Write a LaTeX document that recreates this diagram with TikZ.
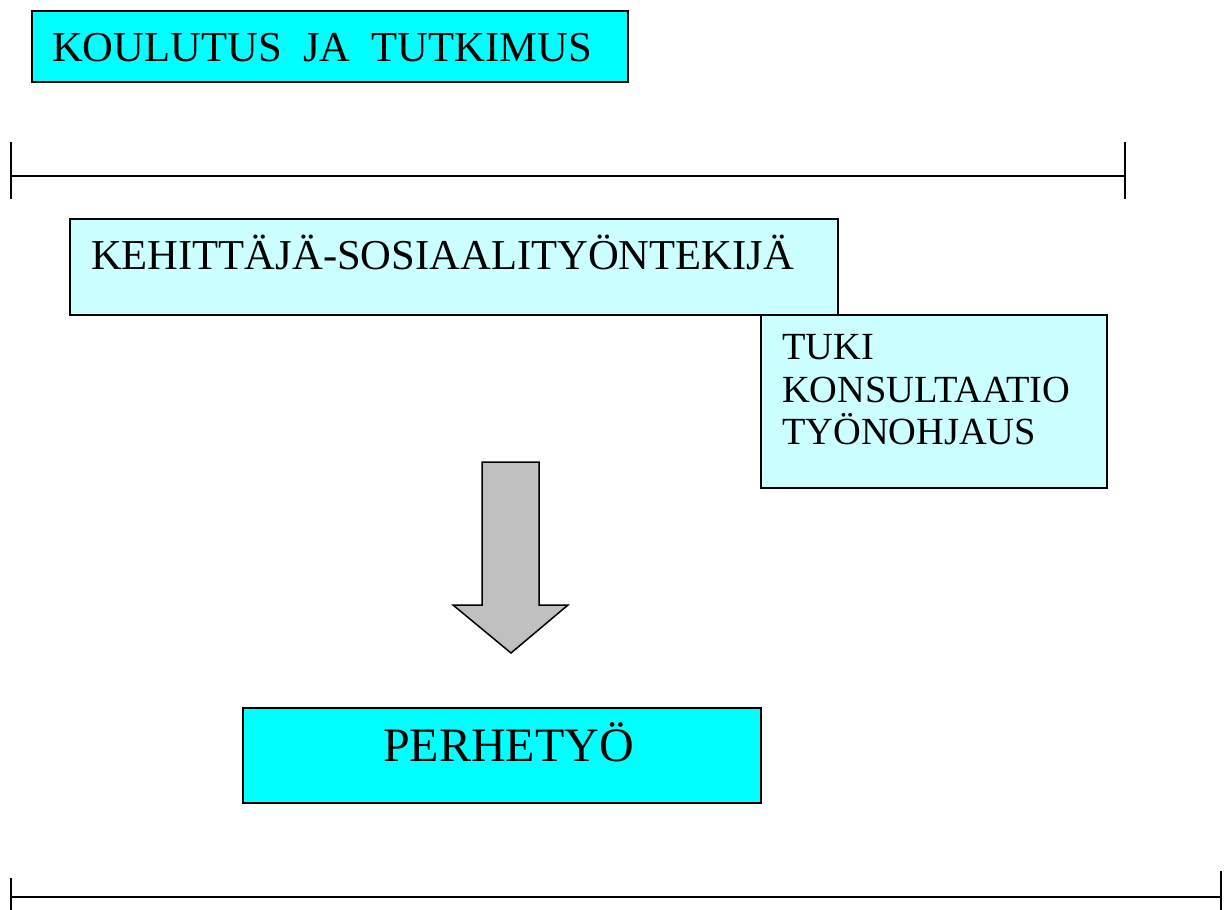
\documentclass[tikz,border=0pt]{standalone}
\usepackage{fontspec}
\setmainfont{Liberation Serif}
\definecolor{aqua}{HTML}{00FFFF}
\definecolor{paleaqua}{HTML}{CCFFFF}
\definecolor{arrowgray}{HTML}{C0C0C0}
\tikzset{
  boxa/.style={draw=black, line width=1.5pt, fill=aqua, anchor=north west, inner sep=0pt},
  boxb/.style={draw=black, line width=1.5pt, fill=paleaqua, anchor=north west, inner sep=0pt},
  txt/.style={anchor=base west, inner sep=0pt, text=black},
  rule/.style={draw=black, line width=1.5pt},
  bigarrow/.style={draw=black, line width=1.5pt, fill=arrowgray, line join=miter}
}
\begin{document}
\begin{tikzpicture}[x=1pt,y=-1pt]
\useasboundingbox (0,0) rectangle (1226,910);
% top box
\node[boxa, minimum width=596pt, minimum height=71pt] (koul) at (31,10) {};
\node[txt, font=\fontsize{42.6}{48}\selectfont] (koult) at (52,61) {KOULUTUS\ \ JA\ \ TUTKIMUS};
% top rule
\draw[rule] (11,176) -- (1125,176);
\draw[rule] (11,142) -- (11,199);
\draw[rule] (1125,142) -- (1125,199);
% kehittaja box
\node[boxb, minimum width=768pt, minimum height=96pt] (keh) at (69,218) {};
\node[txt, font=\fontsize{42.6}{48}\selectfont] (keht) at (91,269) {KEHITTÄJÄ-SOSIAALITYÖNTEKIJÄ};
% tuki box
\node[boxb, minimum width=346pt, minimum height=173pt] (tuki) at (760,314) {};
\node[txt, font=\fontsize{38.4}{43}\selectfont] (t1) at (782,359) {TUKI};
\node[txt, font=\fontsize{38.4}{43}\selectfont] (t2) at (782,402) {KONSULTAATIO};
\node[txt, font=\fontsize{38.4}{43}\selectfont] (t3) at (782,444) {TYÖNOHJAUS};
% arrow
\draw[bigarrow] (482,462) -- (539,462) -- (539,605) -- (568,605) -- (511,653) -- (453,605) -- (482,605) -- cycle;
% perhetyo box
\node[boxa, minimum width=518pt, minimum height=95pt] (perhe) at (242,707) {};
\node[txt, font=\fontsize{48}{54}\selectfont] (perhet) at (383,761) {PERHETYÖ};
% bottom rule
\draw[rule] (11,897) -- (1221,897);
\draw[rule] (11,878) -- (11,910);
\draw[rule] (1221,871) -- (1221,910);
\end{tikzpicture}
\end{document}
